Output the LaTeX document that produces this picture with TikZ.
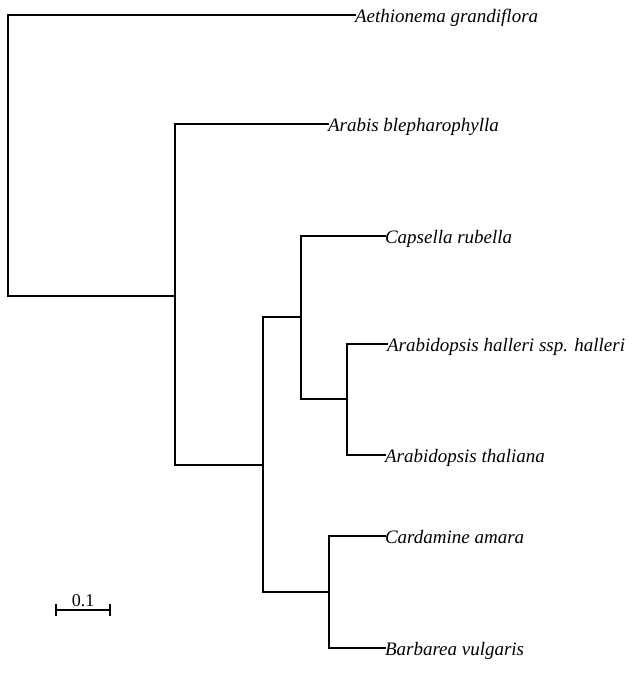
\documentclass[tikz,border=0pt]{standalone}
\usepackage{fontspec}
\setmainfont{Liberation Serif}
\begin{document}
\begin{tikzpicture}[x=1pt,y=-1pt,
  branch/.style={line width=1.6pt, line cap=rect},
  taxon/.style={anchor=west, inner sep=0pt, outer sep=0pt, text height=19pt, text depth=5pt,
    font=\fontsize{19}{22}\selectfont\itshape},
  scalelab/.style={anchor=base, inner sep=0pt, font=\fontsize{18}{20}\selectfont}]
\useasboundingbox (0,0) rectangle (635,683);
% leaves
\node[taxon] (aeth) at (355,15) {Aethionema grandiflora};
\node[taxon] (arab) at (328,124) {Arabis blepharophylla};
\node[taxon] (caps) at (385,236) {Capsella rubella};
\node[taxon] (hall) at (387,344) {Arabidopsis halleri ssp. halleri};
\node[taxon] (thal) at (385,455) {Arabidopsis thaliana};
\node[taxon] (card) at (385,536) {Cardamine amara};
\node[taxon] (barb) at (385,648) {Barbarea vulgaris};
% internal nodes
\coordinate (root) at (8,155);
\coordinate (nA) at (175,296);
\coordinate (nB) at (263,465);
\coordinate (nC) at (301,317);
\coordinate (nE) at (347,399);
\coordinate (nD) at (329,592);
% branches
\draw[branch] (root) |- (aeth.west);
\draw[branch] (root) |- (nA);
\draw[branch] (nA) |- (arab.west);
\draw[branch] (nA) |- (nB);
\draw[branch] (nB) |- (nC);
\draw[branch] (nB) |- (nD);
\draw[branch] (nC) |- (caps.west);
\draw[branch] (nC) |- (nE);
\draw[branch] (nE) |- (hall.west);
\draw[branch] (nE) |- (thal.west);
\draw[branch] (nD) |- (card.west);
\draw[branch] (nD) |- (barb.west);
% scale bar
\coordinate (s1) at (56,610);
\coordinate (s2) at (110,610);
\draw[branch] (s1) -- (s2);
\draw[branch] ([yshift=-5pt]s1) -- ([yshift=5pt]s1);
\draw[branch] ([yshift=-5pt]s2) -- ([yshift=5pt]s2);
\node[scalelab] (slab) at (83,606) {0.1};
\end{tikzpicture}
\end{document}
